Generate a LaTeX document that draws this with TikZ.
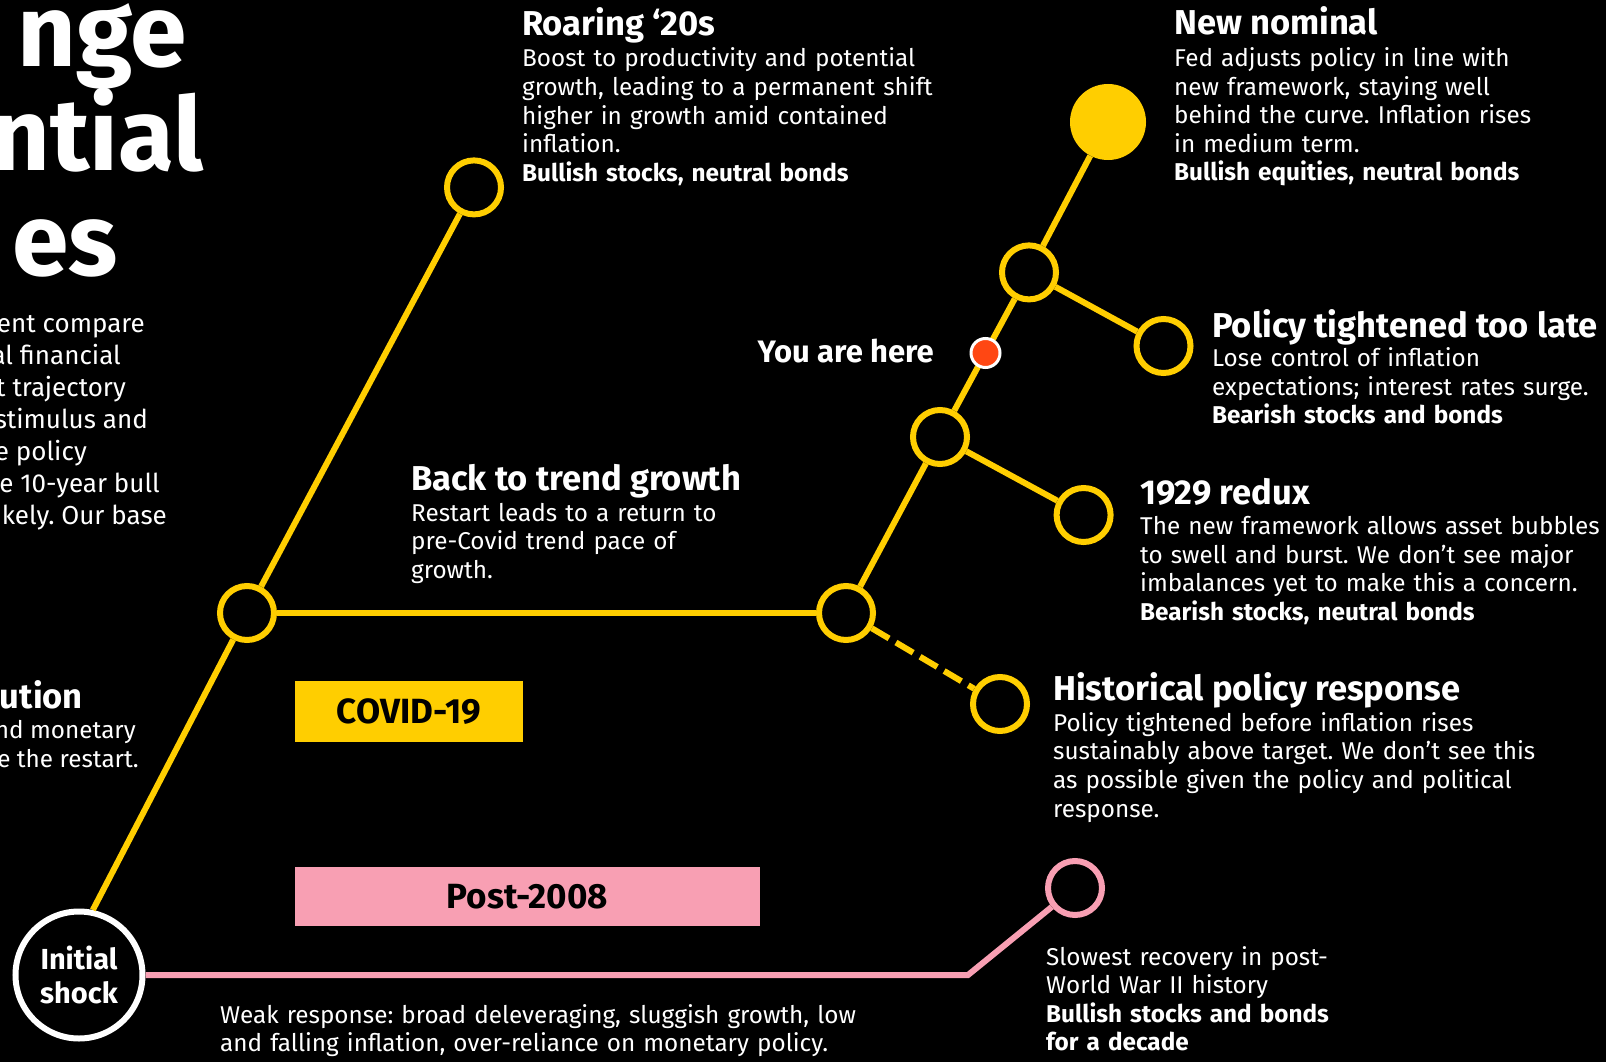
\documentclass[tikz,border=0pt]{standalone}
\usepackage{fontspec}
\setmainfont{Fira Sans}
\frenchspacing
\newlength{\du}
\setlength{\du}{1pt}
\definecolor{blkyellow}{rgb}{1.000000, 0.807843, 0.000000}
\definecolor{blkpink}{rgb}{0.972549, 0.623529, 0.701961}
\definecolor{blkred}{rgb}{1.000000, 0.278431, 0.074510}

\begin{document}
\begin{tikzpicture}[
  ring/.style={circle, draw=blkyellow, line width=6\du, fill=black, minimum size=54\du, inner sep=0pt},
  track/.style={draw=blkyellow, line width=6\du},
  pinktrack/.style={draw=blkpink, line width=6\du},
  head/.style={text=white, font=\fontsize{34.5}{40}\selectfont\bfseries, inner sep=0pt, anchor=base west},
  body/.style={text=white, font=\fontsize{24.3}{28.6}\selectfont, inner sep=0pt, anchor=base west, align=left, text width=900\du},
  side/.style={text=white, font=\fontsize{26}{32}\selectfont, inner sep=0pt, anchor=base east},
  bigtitle/.style={text=white, font=\fontsize{102}{110}\selectfont\bfseries, inner sep=0pt, anchor=base east},
  tag/.style={text=black, font=\fontsize{35}{40}\selectfont\bfseries, inner sep=0pt}
]
\pgftransformxscale{1.000000}
\pgftransformyscale{-1.000000}
\useasboundingbox (0\du,0\du) rectangle (1606\du,1062\du);
\fill[black] (0\du,0\du) rectangle (1606\du,1062\du);
\clip (0\du,0\du) rectangle (1606\du,1062\du);

% title and intro, cut at the left edge
\node[bigtitle] (ttlone) at (187.000000\du,67.000000\du) {nge};
\node[bigtitle] (ttltwo) at (204.000000\du,170.000000\du) {ntial};
\node[bigtitle] (ttlthree) at (118.000000\du,275.000000\du) {es};
\node[side] (introa) at (145.000000\du,332.700000\du) {nent compare};
\node[side] (introb) at (121.000000\du,364.000000\du) {al financial};
\node[side] (introc) at (126.000000\du,396.000000\du) {nt trajectory};
\node[side] (introd) at (148.000000\du,428.000000\du) {stimulus and};
\node[side] (introe) at (87.000000\du,460.000000\du) {e policy};
\node[side] (introf) at (160.000000\du,492.000000\du) {ne 10-year bull};
\node[side] (introg) at (167.000000\du,524.000000\du) {likely. Our base};
\node[head, anchor=base east] (solhd) at (83.000000\du,708.000000\du) {ution};
\node[side, font=\fontsize{24.3}{28.6}\selectfont] (sola) at (136.000000\du,738.500000\du) {nd monetary};
\node[side, font=\fontsize{24.3}{28.6}\selectfont] (solb) at (139.000000\du,767.500000\du) {e the restart.};

% stations
\node[circle, draw=white, line width=6\du, fill=black, minimum size=127\du, inner sep=0pt, text=white, align=center, font=\fontsize{29}{34}\selectfont\bfseries] (shock) at (79.000000\du,975.000000\du) {Initial\\shock};
\node[ring] (nA) at (247.000000\du,613.000000\du) {};
\node[ring] (nR) at (474.000000\du,187.400000\du) {};
\node[ring] (nB) at (846.000000\du,613.000000\du) {};
\node[ring] (nC) at (940.000000\du,437.000000\du) {};
\node[ring] (nD) at (1083.600000\du,515.000000\du) {};
\node[ring] (nE) at (1029.000000\du,272.400000\du) {};
\node[ring] (nF) at (1163.500000\du,346.000000\du) {};
\node[circle, fill=blkyellow, minimum size=76\du, inner sep=0pt] (nG) at (1108.000000\du,122.000000\du) {};
\node[ring] (nH) at (1000.000000\du,704.000000\du) {};
\node[ring, draw=blkpink] (nP) at (1075.000000\du,888.000000\du) {};
\coordinate (kink) at (968.000000\du,975.000000\du);

\draw[track] (shock.78) -- (nA);
\draw[track] (nA) -- (nR);
\draw[track] (nA) -- (nB);
\draw[track] (nB) -- (nC);
\draw[track] (nC) -- (nD);
\draw[track] (nC) -- (nE);
\draw[track] (nE) -- (nF);
\draw[track] (nE) -- (nG);
\draw[track, dash pattern=on 20\du off 8\du] (nB) -- (nH);
\draw[pinktrack] (shock.east) -- (kink) -- (nP);

\node[circle, draw=white, line width=3\du, fill=blkred, minimum size=29\du, inner sep=0pt] (here) at (985.500000\du,353.000000\du) {};
\node[head, anchor=base east, font=\fontsize{31}{36}\selectfont\bfseries] (herelbl) at (934.000000\du,362.000000\du) {You are here};

\node[tag, fill=blkyellow, minimum width=228\du, minimum height=61\du] (covid) at (409.000000\du,711.500000\du) {COVID-19};
\node[tag, fill=blkpink, minimum width=465\du, minimum height=59\du] (post) at (527.500000\du,896.500000\du) {Post-2008};

% scenario texts
\node[head] (roaringhd) at (522.000000\du,35.500000\du) {Roaring ‘20s};
\node[body] (roaringtx) at (522.000000\du,67.000000\du) {Boost to productivity and potential\\growth, leading to a permanent shift\\higher in growth amid contained\\inflation.\\\textbf{Bullish stocks, neutral bonds}};
\node[head] (nominalhd) at (1174.000000\du,34.700000\du) {New nominal};
\node[body] (nominaltx) at (1174.000000\du,66.500000\du) {Fed adjusts policy in line with\\new framework, staying well\\behind the curve. Inflation rises\\in medium term.\\\textbf{Bullish equities, neutral bonds}};
\node[head] (latehd) at (1212.000000\du,337.500000\du) {Policy tightened too late};
\node[body] (latetx) at (1212.000000\du,366.500000\du) {Lose control of inflation\\expectations; interest rates surge.\\\textbf{Bearish stocks and bonds}};
\node[head] (trendhd) at (411.000000\du,490.500000\du) {Back to trend growth};
\node[body] (trendtx) at (411.000000\du,521.300000\du) {Restart leads to a return to\\pre-Covid trend pace of\\growth.};
\node[head] (reduxhd) at (1140.000000\du,504.500000\du) {1929 redux};
\node[body] (reduxtx) at (1140.000000\du,534.500000\du) {The new framework allows asset bubbles\\to swell and burst. We don’t see major\\imbalances yet to make this a concern.\\\textbf{Bearish stocks, neutral bonds}};
\node[head] (histhd) at (1053.000000\du,700.500000\du) {Historical policy response};
\node[body] (histtx) at (1053.000000\du,731.300000\du) {Policy tightened before inflation rises\\sustainably above target. We don’t see this\\as possible given the policy and political\\response.};
\node[body] (slowtx) at (1046.000000\du,965.000000\du) {Slowest recovery in post-\\World War II history\\\textbf{Bullish stocks and bonds}\\\textbf{for a decade}};
\node[body, font=\fontsize{24.3}{27.5}\selectfont] (weaktx) at (220.000000\du,1023.500000\du) {Weak response: broad deleveraging, sluggish growth, low\\and falling inflation, over-reliance on monetary policy.};
\end{tikzpicture}
\end{document}
